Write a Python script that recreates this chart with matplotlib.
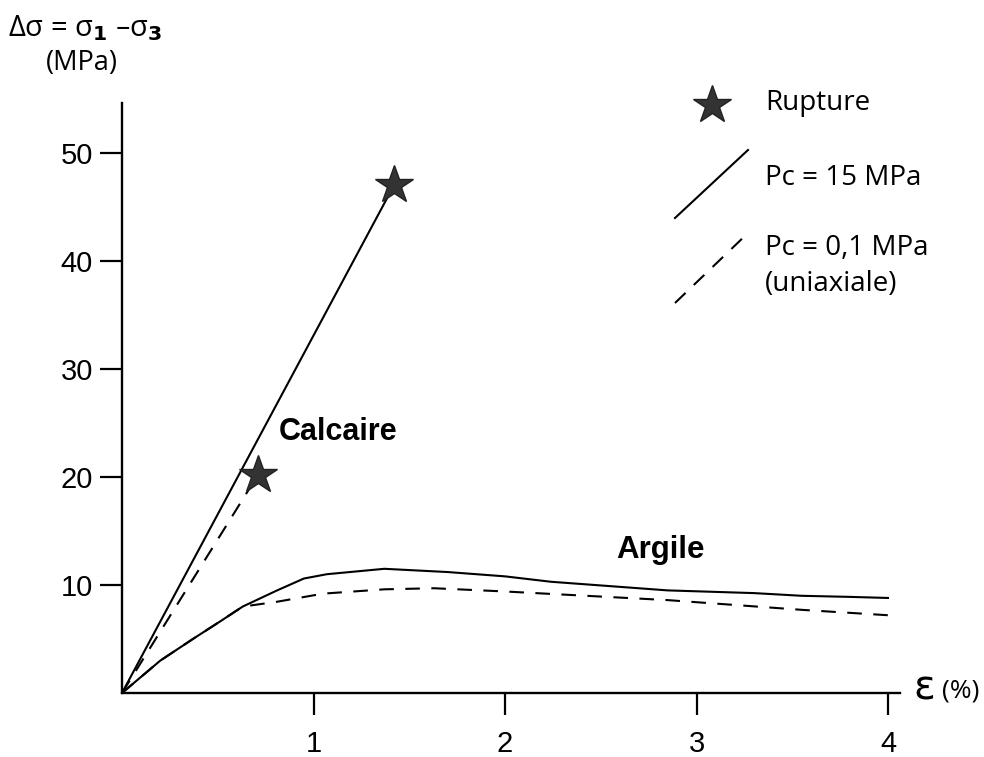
import matplotlib
matplotlib.use("Agg")
import matplotlib.pyplot as plt
from matplotlib.lines import Line2D

# courbes (deformation en %, contrainte en MPa)
calc_pc15_x = [0, 1.42]
calc_pc15_y = [0, 47.0]
calc_uni_x = [0, 0.71]
calc_uni_y = [0, 20.2]

arg_pc15_x = [0, 0.2, 0.37, 0.51, 0.63, 0.81, 0.95, 1.07, 1.37, 1.7, 2.0, 2.24, 2.85, 3.3, 3.55, 3.8, 4.0]
arg_pc15_y = [0, 3.0, 5.0, 6.6, 8.0, 9.5, 10.6, 11.0, 11.5, 11.2, 10.8, 10.3, 9.5, 9.25, 9.0, 8.9, 8.8]
arg_uni_x = [0, 0.2, 0.37, 0.51, 0.63, 0.81, 1.05, 1.37, 1.63, 2.0, 2.85, 3.55, 4.0]
arg_uni_y = [0, 3.0, 5.0, 6.6, 8.0, 8.45, 9.2, 9.6, 9.7, 9.4, 8.6, 7.7, 7.2]

rupture_x = [1.42, 0.71]
rupture_y = [47.0, 20.2]

x_ticks = [1, 2, 3, 4]
y_ticks = [10, 20, 30, 40, 50]

W, H = 984, 757
fig = plt.figure(figsize=(W / 100, H / 100), dpi=100)
ax = fig.add_axes([122 / W, 1 - 693 / H, 778 / W, 590 / H])

lw = 1.5
dash = (7, 5.5)
star_c = "#333333"
ax.plot(calc_pc15_x, calc_pc15_y, color="black", lw=lw)
ax.plot(calc_uni_x, calc_uni_y, color="black", lw=lw, dashes=dash)
ax.plot(arg_pc15_x, arg_pc15_y, color="black", lw=lw)
ax.plot(arg_uni_x, arg_uni_y, color="black", lw=lw, dashes=dash)
ax.plot(rupture_x, rupture_y, ls="none", marker="*", ms=29, color=star_c,
        markeredgecolor="#222222", zorder=5)

ax.set_xlim(0, 778 / 191.5)
ax.set_ylim(0, 590 / 10.8)
ax.set_xticks(x_ticks)
ax.set_yticks(y_ticks)
ax.set_xticklabels([str(t) for t in x_ticks], fontsize=21, family="Liberation Sans")
ax.set_yticklabels([str(t) for t in y_ticks], fontsize=21, family="Liberation Sans")
ax.tick_params(axis="both", direction="out", length=16, width=1.6)
ax.tick_params(axis="x", pad=11)
ax.tick_params(axis="y", pad=5)
for s in ["top", "right"]:
    ax.spines[s].set_visible(False)
for s in ["left", "bottom"]:
    ax.spines[s].set_linewidth(1.7)

ax.text(1.13, 24.2, "Calcaire", fontsize=22, fontweight="bold", family="Liberation Sans",
        ha="center", va="center")
ax.text(2.81, 13.2, "Argile", fontsize=22.5, fontweight="bold", family="Liberation Sans",
        ha="center", va="center")

def fx(px):
    return px / W

def fy(py):
    return 1 - py / H

fam = ["Open Sans", "DejaVu Sans"]
fig.text(fx(8), fy(28), r"Δσ = σ$_\mathbf{1}$ –σ$_\mathbf{3}$", fontsize=21, family=fam,
         ha="left", va="center")
fig.text(fx(46), fy(63), "(MPa)", fontsize=19.5, family=fam, ha="left", va="center")

# legende dessinee a la main
fig.add_artist(Line2D([fx(712)], [fy(105)], marker="*", ms=29, color=star_c,
                      markeredgecolor="#222222", ls="none"))
fig.text(fx(765), fy(103), "Rupture", fontsize=20, family=fam, ha="left", va="center")
fig.add_artist(Line2D([fx(675), fx(748)], [fy(218), fy(150)], color="black", lw=lw))
fig.text(fx(765), fy(178), "Pc = 15 MPa", fontsize=20, family=fam, ha="left", va="center")
fig.add_artist(Line2D([fx(675), fx(748)], [fy(303), fy(233)], color="black", lw=lw, dashes=dash))
fig.text(fx(765), fy(248), "Pc = 0,1 MPa", fontsize=20, family=fam, ha="left", va="center")
fig.text(fx(765), fy(284), "(uniaxiale)", fontsize=20, family=fam, ha="left", va="center")

fig.text(fx(913), fy(688), "ε", fontsize=29, family="DejaVu Sans", ha="left", va="center")
fig.text(fx(942), fy(691), "(%)", fontsize=19, family=fam, ha="left", va="center")

fig.savefig("out.png", dpi=100)
